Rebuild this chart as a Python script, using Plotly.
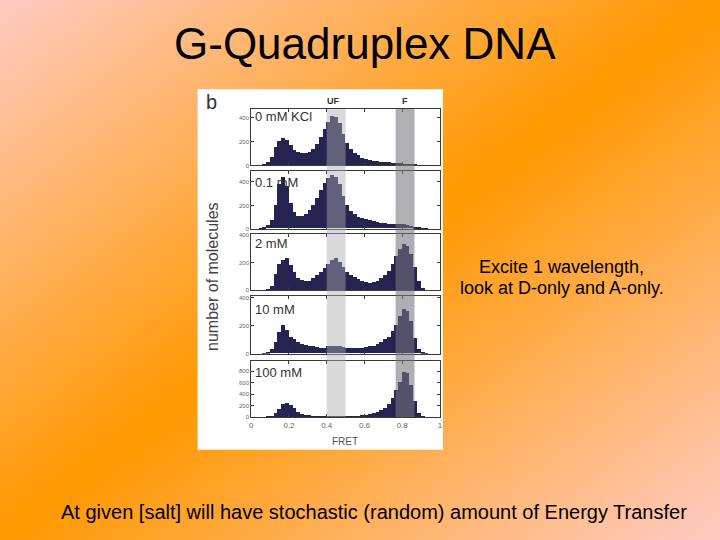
import base64
import plotly.graph_objects as go

# ---------------- data ----------------
fret_bins = [0.01, 0.03, 0.05, 0.07, 0.09, 0.11, 0.13, 0.15, 0.17, 0.19,
             0.21, 0.23, 0.25, 0.27, 0.29, 0.31, 0.33, 0.35, 0.37, 0.39,
             0.41, 0.43, 0.45, 0.47, 0.49, 0.51, 0.53, 0.55, 0.57, 0.59,
             0.61, 0.63, 0.65, 0.67, 0.69, 0.71, 0.73, 0.75, 0.77, 0.79,
             0.81, 0.83, 0.85, 0.87, 0.89, 0.91, 0.93, 0.95, 0.97, 0.99]

kcl_0mM = [0, 0, 2, 8, 30, 70, 150, 200, 225, 215,
           170, 130, 110, 100, 100, 115, 140, 180, 240, 300,
           360, 410, 400, 350, 260, 190, 140, 105, 85, 65,
           55, 45, 40, 35, 30, 28, 25, 22, 20, 18,
           16, 14, 10, 6, 3, 1, 0, 0, 0, 0]
kcl_01mM = [0, 0, 3, 10, 30, 70, 200, 380, 440, 360,
            220, 140, 110, 105, 120, 155, 200, 260, 330, 390,
            430, 460, 440, 380, 280, 200, 150, 120, 100, 90,
            80, 70, 62, 55, 50, 45, 42, 40, 38, 36,
            34, 30, 24, 15, 8, 3, 1, 0, 0, 0]
kcl_2mM = [0, 0, 0, 2, 5, 30, 120, 190, 220, 230,
           180, 130, 90, 75, 65, 70, 90, 110, 130, 160,
           190, 220, 230, 205, 170, 130, 110, 95, 80, 70,
           60, 55, 60, 70, 90, 110, 140, 190, 250, 300,
           330, 320, 260, 170, 70, 15, 2, 0, 0, 0]
kcl_10mM = [0, 0, 0, 3, 10, 30, 80, 150, 200, 170,
            120, 100, 80, 70, 60, 55, 50, 45, 42, 40,
            50, 55, 55, 52, 45, 40, 38, 40, 40, 42,
            45, 50, 55, 65, 80, 100, 120, 160, 200, 270,
            320, 300, 230, 110, 30, 8, 2, 0, 0, 0]
kcl_100mM = [0, 0, 0, 3, 10, 30, 80, 150, 230, 250,
             220, 160, 100, 55, 40, 35, 30, 28, 25, 25,
             25, 28, 30, 30, 28, 25, 25, 28, 30, 35,
             45, 55, 75, 100, 130, 170, 230, 340, 470, 620,
             790, 780, 560, 280, 80, 15, 3, 0, 0, 0]

panel_series = [kcl_0mM, kcl_01mM, kcl_2mM, kcl_10mM, kcl_100mM]
panel_labels = ["0 mM KCl", "0.1 mM", "2 mM", "10 mM", "100 mM"]
panel_ymax = [470, 490, 405, 410, 980]
panel_yticks = [[0, 200, 400], [0, 200, 400], [0, 200, 400], [0, 200, 400],
                [0, 200, 400, 600, 800]]
x_tickvals = [0, 0.2, 0.4, 0.6, 0.8, 1]
x_ticktext = ["0", "0.2", "0.4", "0.6", "0.8", "1"]
uf_band = [0.40, 0.50]
f_band = [0.765, 0.865]

# ---------------- layout helpers ----------------
W, H = 720, 540


def px(x):
    return x / W


def py(y):
    return 1 - y / H


panel_pix = [(108, 165), (171, 229), (234, 291), (297, 355), (362, 419)]
x_dom = [px(251), px(441)]

FONT = "Liberation Sans, Arial, sans-serif"
BAR = "#25234f"
AX = "#3a3a3a"

svg = ('<svg xmlns="http://www.w3.org/2000/svg" width="720" height="540" '
       'viewBox="0 0 720 540" preserveAspectRatio="none"><defs>'
       '<linearGradient id="g" x1="0" y1="0" x2="1" y2="1">'
       '<stop offset="0" stop-color="#FFCCC6"/>'
       '<stop offset="0.5" stop-color="#FF9900"/>'
       '<stop offset="1" stop-color="#FFCCC6"/>'
       '</linearGradient></defs>'
       '<rect width="720" height="540" fill="url(#g)"/></svg>')
bg_src = "data:image/svg+xml;base64," + base64.b64encode(svg.encode()).decode()

fig = go.Figure()
layout = dict(
    width=W, height=H,
    margin=dict(l=0, r=0, t=0, b=0),
    paper_bgcolor="#FFB070",
    plot_bgcolor="rgba(0,0,0,0)",
    showlegend=False,
    bargap=0,
    font=dict(family=FONT, color="#000"),
)

for i, vals in enumerate(panel_series):
    sfx = "" if i == 0 else str(i + 1)
    fig.add_trace(go.Bar(
        x=fret_bins, y=vals, width=0.02,
        marker=dict(color=BAR, line=dict(width=0)),
        xaxis="x" + sfx, yaxis="y" + sfx, hoverinfo="skip",
    ))
    top, bot = panel_pix[i]
    last = (i == len(panel_series) - 1)
    layout["xaxis" + sfx] = dict(
        domain=x_dom, range=[0, 1], anchor="y" + sfx,
        tickvals=x_tickvals, ticktext=x_ticktext,
        showticklabels=last, ticks="inside", ticklen=3, tickcolor=AX,
        showline=True, linecolor=AX, linewidth=1, mirror="ticks",
        showgrid=False, zeroline=False,
        tickfont=dict(size=8, color="#666", family=FONT),
    )
    layout["yaxis" + sfx] = dict(
        domain=[py(bot), py(top)], range=[0, panel_ymax[i]], anchor="x" + sfx,
        tickvals=panel_yticks[i], ticks="inside", ticklen=3, tickcolor=AX,
        showline=True, linecolor=AX, linewidth=1, mirror="ticks",
        showgrid=False, zeroline=False,
        tickfont=dict(size=6, color="#666", family=FONT),
    )

shapes = [
    # white figure panel
    dict(type="rect", xref="paper", yref="paper", layer="below",
         x0=px(197), x1=px(444), y0=py(452), y1=py(88),
         fillcolor="white", line=dict(width=0)),
    # UF band
    dict(type="rect", xref="x", yref="paper", layer="above",
         x0=uf_band[0], x1=uf_band[1], y0=py(419), y1=py(108),
         fillcolor="rgb(172,172,180)", opacity=0.45, line=dict(width=0)),
    # F band
    dict(type="rect", xref="x", yref="paper", layer="above",
         x0=f_band[0], x1=f_band[1], y0=py(419), y1=py(108),
         fillcolor="rgb(118,118,126)", opacity=0.58, line=dict(width=0)),
]


def note(text, x, y, size, color="#000", xanchor="center", angle=0):
    return dict(text=text, x=px(x), y=py(y), xref="paper", yref="paper",
                xanchor=xanchor, yanchor="middle", showarrow=False,
                textangle=angle, font=dict(size=size, color=color, family=FONT))


annotations = []
label_y = [116, 182, 244, 310, 374]
for lab, yy in zip(panel_labels, label_y):
    annotations.append(note(lab, 253, yy, 13, "#333", xanchor="left"))
annotations += [
    note("b", 211, 101, 20, "#333"),
    note("<b>UF</b>", 334, 100, 9, "#333"),
    note("<b>F</b>", 406, 100, 9, "#333"),
    note("number of molecules", 212, 277, 16, "#444", angle=-90),
    note("FRET", 345, 444, 10, "#555"),
    note("G-Quadruplex DNA", 366, 42, 44),
    note("Excite 1 wavelength,", 563, 267, 18),
    note("look at D-only and A-only.", 564, 289, 18),
    note("At given [salt] will have stochastic (random) amount of Energy Transfer",
         375, 515, 20),
]

layout["shapes"] = shapes
layout["annotations"] = annotations
layout["images"] = [dict(source=bg_src, xref="paper", yref="paper", x=-0.01, y=1.01,
                         sizex=1.02, sizey=1.02, xanchor="left", yanchor="top",
                         sizing="stretch", layer="below")]

fig.update_layout(**layout)
fig.write_html("out.html",
               config={"displayModeBar": False},
               post_script="document.body.style.margin='0';document.body.style.padding='0';")
